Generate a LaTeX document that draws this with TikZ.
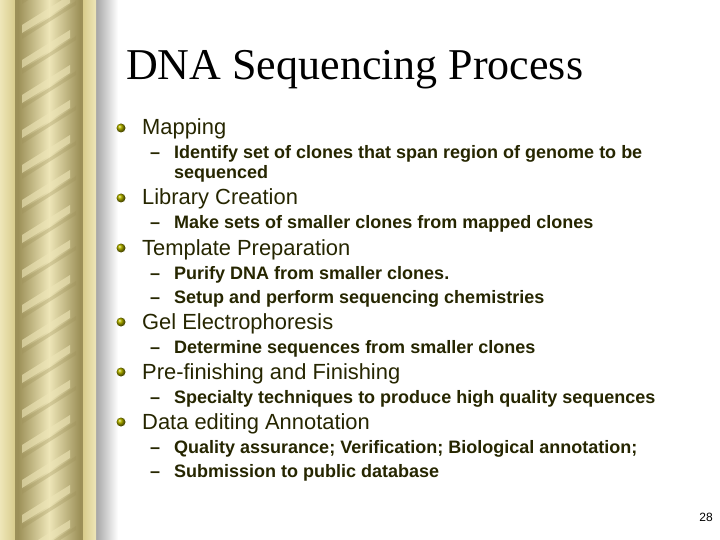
\documentclass[tikz,border=0pt]{standalone}
\usepackage{fontspec}
\setmainfont{Liberation Serif}
\setsansfont{Liberation Sans}
\begin{document}
\begin{tikzpicture}[x=1pt,y=-1pt,
  lone/.style={anchor=base west,font=\sffamily\fontsize{21.9}{24}\selectfont,text=txt,inner sep=0},
  ltwo/.style={anchor=base west,font=\sffamily\bfseries\fontsize{18}{20}\selectfont,text=txt,inner sep=0},
  dsh/.style={anchor=base west,font=\sffamily\bfseries\fontsize{18}{20}\selectfont,text=txt,inner sep=0},
  bul/.style={circle,inner sep=0,minimum size=9pt,ball color=olive!80!yellow,draw=none}]
\definecolor{txt}{HTML}{262600}
\definecolor{gold}{HTML}{D8CC8C}
\definecolor{goldd}{HTML}{9C9058}
\definecolor{goldl}{HTML}{EEE6B8}
\useasboundingbox (0,0) rectangle (720,540);
\fill[white] (0,0) rectangle (720,540);
% border
\shade[left color=gray!70,right color=white] (96,0) rectangle (118,540);
\shade[left color=goldl,right color=gold] (0,0) rectangle (15,540);
\fill[goldd] (15,0) rectangle (18,540);
\shade[left color=goldd,right color=goldd,middle color=goldl] (18,0) rectangle (80,540);
\begin{scope}
\clip (18,0) rectangle (80,540);
\foreach \y in {-40,-5,...,560}{
  \fill[goldl,opacity=0.6] (22,\y+30) -- (70,\y) -- (70,\y+8) -- (22,\y+38) -- cycle;
  \fill[goldd,opacity=0.3] (22,\y+40) -- (76,\y+6) -- (76,\y+10) -- (22,\y+44) -- cycle;
}
\end{scope}
\fill[goldd] (80,0) rectangle (83,540);
\shade[left color=gold,right color=goldl] (83,0) rectangle (96,540);
% title
\node[anchor=base west,font=\fontsize{44}{48}\selectfont,inner sep=0] (title) at (126,80) {DNA Sequencing Process};
% bullets
\foreach \n/\y/\t in {b1/135/Mapping,b2/205/Library Creation,b3/255/Template Preparation,b4/329/Gel Electrophoresis,b5/379/Pre-finishing and Finishing,b6/429/Data editing Annotation}{
  \node[bul] (\n c) at (121,\y-7) {};
  \node[lone] (\n) at (142,\y) {\t};
}
\foreach \n/\y/\t in {s1/159/Identify set of clones that span region of genome to be,s2/229/Make sets of smaller clones from mapped clones,s3/279/Purify DNA from smaller clones.,s4/303/Setup and perform sequencing chemistries,s5/353/Determine sequences from smaller clones,s6/403/Specialty techniques to produce high quality sequences,s7/453/Quality assurance; Verification; Biological annotation;,s8/477/Submission to public database}{
  \node[dsh] (\n d) at (150,\y) {--};
  \node[ltwo] (\n) at (174,\y) {\t};
}
\node[ltwo] (s1b) at (174,179) {sequenced};
\node[anchor=base east,font=\sffamily\fontsize{12}{14}\selectfont,inner sep=0] (pg) at (713,521) {28};
\end{tikzpicture}
\end{document}
